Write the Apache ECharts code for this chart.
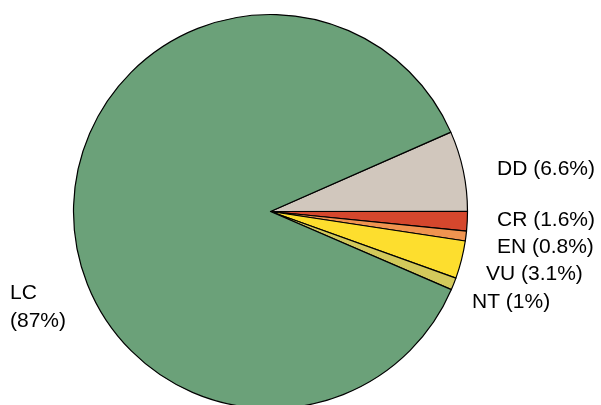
<!DOCTYPE html>
<html>
<head>
<meta charset="utf-8">
<script src="https://cdn.jsdelivr.net/npm/echarts@6/dist/echarts.min.js"></script>
<style>html,body{margin:0;padding:0;background:#fff}#c{width:601px;height:405px}</style>
</head>
<body>
<div id="c"></div>
<script>
// Data
const categories = ['DD', 'CR', 'EN', 'VU', 'NT', 'LC'];
const percents = [6.6, 1.6, 0.8, 3.1, 1, 87];
const colors = ['#D1C7BD', '#D5472D', '#F09450', '#FDDE2E', '#D3C95B', '#6BA179'];
// label anchor points (layout only)
const labelAnchors = [[497, 169], [497, 220], [497, 247], [486, 274], [472, 302], [10, 307]];

const chart = echarts.init(document.getElementById('c'), null, {renderer: 'canvas'});
chart.setOption({
  animation: false,
  series: [{
    type: 'pie',
    center: [270.5, 211.5],
    radius: 197,
    startAngle: 23.76,
    clockwise: true,
    avoidLabelOverlap: false,
    data: categories.map((c, i) => ({
      name: c,
      value: percents[i],
      itemStyle: {color: colors[i]}
    })),
    itemStyle: {borderColor: '#000', borderWidth: 1.2},
    emphasis: {disabled: true},
    label: {
      show: true,
      position: 'outside',
      fontFamily: 'Liberation Sans, Arial, sans-serif',
      fontSize: 21,
      color: '#000',
      lineHeight: 28,
      formatter: p => p.name === 'LC' ? p.name + '\n(' + p.value + '%)' : p.name + ' (' + p.value + '%)'
    },
    labelLine: {show: false},
    labelLayout: function (p) {
      const a = labelAnchors[p.dataIndex];
      return {x: a[0], y: a[1], align: 'left', verticalAlign: 'middle'};
    }
  }]
});
</script>
</body>
</html>
